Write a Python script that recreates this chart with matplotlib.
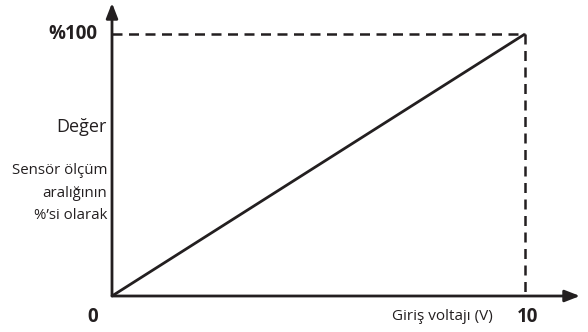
import matplotlib
matplotlib.use("Agg")
from matplotlib import pyplot as plt

# data: input voltage (V) vs value (% of sensor range)
voltage = [0, 10]
percent = [0, 100]
x_max, y_max = 10, 100

plt.rcParams['font.family'] = ['Open Sans', 'DejaVu Sans']
ink = '#231f20'

fig = plt.figure(figsize=(5.88, 3.32), dpi=100)
# axes box from the y axis (px 112) to the x arrow tip (px 580)
ax = fig.add_axes([112 / 588, 36 / 332, 468 / 588, 293 / 332])
ax.set_xlim(0, 468 / 41.3)
ax.set_ylim(0, 293 / 2.62)
ax.axis('off')

# axes with arrow heads
arrow = dict(arrowstyle='-|>,head_length=0.9,head_width=0.35', color=ink, lw=2.0,
             shrinkA=0, shrinkB=0)
ax.annotate('', xy=(ax.get_xlim()[1], 0), xytext=(0, 0), arrowprops=arrow,
            annotation_clip=False)
ax.annotate('', xy=(0, ax.get_ylim()[1]), xytext=(0, 0), arrowprops=arrow,
            annotation_clip=False)

# characteristic line
ax.plot(voltage, percent, color=ink, lw=2.0, solid_capstyle='butt', clip_on=False)

# dashed guides
ax.plot([0, x_max], [y_max, y_max], color=ink, lw=1.8, dashes=(4, 2.6), clip_on=False)
ax.plot([x_max, x_max], [y_max, 0], color=ink, lw=1.8, dashes=(4, 2.6), clip_on=False)

# labels
ax.text(-0.35, y_max, '%100', ha='right', va='center', fontsize=13.5,
        fontweight='bold', color=ink)
ax.text(-0.35, -8, '0', ha='right', va='center', fontsize=13.5,
        fontweight='bold', color=ink)
ax.text(x_max + 0.05, -8, '10', ha='center', va='center', fontsize=13.5,
        fontweight='bold', color=ink)
ax.text(8.0, -8, 'Giriş voltajı (V)', ha='center', va='center', fontsize=11,
        color=ink)
ax.text(-0.12, 64.5, 'Değer', ha='right', va='center', fontsize=13, color=ink)
ax.text(-0.12, 39.3, 'Sensör ölçüm\naralığının\n%’si olarak', ha='right',
        va='center', fontsize=10.8, color=ink, linespacing=1.65)

fig.savefig('out.png', dpi=100)
